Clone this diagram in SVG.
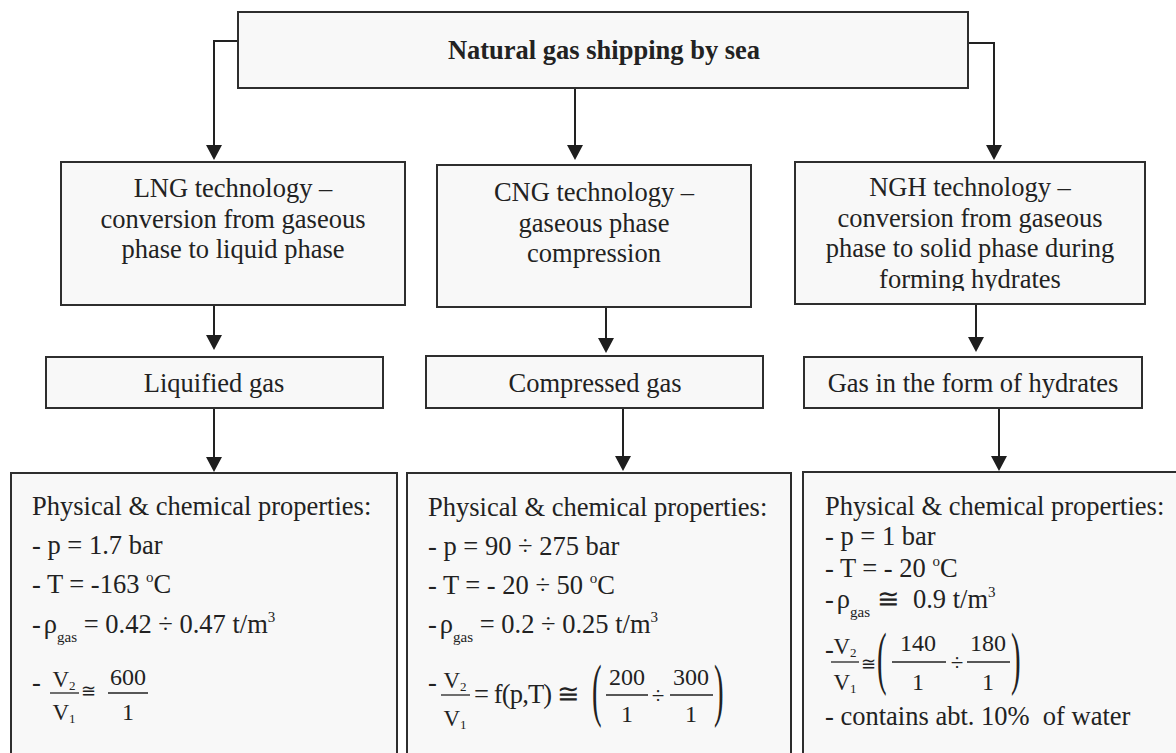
<svg xmlns="http://www.w3.org/2000/svg" width="1176" height="753" viewBox="0 0 1176 753" font-family="'Liberation Serif', 'Times New Roman', 'DejaVu Serif', serif">
<defs>
<marker id="ah" markerUnits="userSpaceOnUse" viewBox="0 0 15 16" refX="12" refY="8" markerWidth="15" markerHeight="16" orient="auto">
<path d="M0,0 L15,8 L0,16 z" fill="#1e1e1e"/>
</marker>
<clipPath id="nghclip"><rect x="795" y="162" width="350" height="129"/></clipPath>
</defs>
<style>
.box{fill:#f8f8f8;stroke:#2e2e2e;stroke-width:2}
.t{font-family:'Liberation Serif','Times New Roman','DejaVu Serif',serif;font-size:26.5px;fill:#222}
.c{text-anchor:middle}
.b{font-weight:bold}
.conn{fill:none;stroke:#222;stroke-width:2;marker-end:url(#ah)}
.sm{font-size:15px}
.ss{font-size:13px}
.fr{font-size:23px}
.nu{font-size:24px}
.eq{font-size:18px}
.fl{stroke:#222;stroke-width:1.3}
.pa{font-size:64px;font-weight:normal}
.pre{white-space:pre}
</style>
<rect width="1176" height="753" fill="#ffffff"/>

<g id="connectors">
<path class="conn" d="M238,41 H214 V157"/>
<path class="conn" d="M575,88 V157"/>
<path class="conn" d="M968,43 H994 V157"/>
<path class="conn" d="M214,305 V347"/>
<path class="conn" d="M606,307 V350"/>
<path class="conn" d="M976,304 V349"/>
<path class="conn" d="M214,408 V469"/>
<path class="conn" d="M623,408 V468"/>
<path class="conn" d="M999,408 V468"/>
</g>

<g id="root">
<rect class="box" x="238" y="12" width="730" height="76"/>
<text class="t b c" x="604" y="59">Natural gas shipping by sea</text>
</g>

<g id="lng">
<rect class="box" x="61" y="162" width="344" height="143"/>
<text class="t c" x="233" y="197">LNG technology –</text>
<text class="t c" x="233" y="228">conversion from gaseous</text>
<text class="t c" x="233" y="258">phase to liquid phase</text>
</g>

<g id="cng">
<rect class="box" x="437" y="165" width="314" height="142"/>
<text class="t c" x="594" y="201">CNG technology –</text>
<text class="t c" x="594" y="232">gaseous phase</text>
<text class="t c" x="594" y="262">compression</text>
</g>

<g id="ngh">
<rect class="box" x="795" y="162" width="350" height="142"/>
<text class="t c" x="970" y="196">NGH technology –</text>
<text class="t c" x="970" y="227">conversion from gaseous</text>
<text class="t c" x="970" y="257">phase to solid phase during</text>
<text class="t c" x="970" y="288" clip-path="url(#nghclip)">forming hydrates</text>
</g>

<g id="liquified">
<rect class="box" x="46" y="357" width="337" height="51"/>
<text class="t c" x="214" y="392">Liquified gas</text>
</g>

<g id="compressed">
<rect class="box" x="426" y="356" width="337" height="52"/>
<text class="t c" x="595" y="392">Compressed gas</text>
</g>

<g id="hydrates">
<rect class="box" x="804" y="357" width="338" height="51"/>
<text class="t c" x="973" y="392">Gas in the form of hydrates</text>
</g>

<g id="props-lng">
<rect class="box" x="11" y="473" width="386" height="300"/>
<text class="t" x="32" y="515">Physical &amp; chemical properties:</text>
<text class="t" x="32" y="554">- p = 1.7 bar</text>
<text class="t" x="32" y="593">- T = -163 <tspan class="sm" dy="-11">o</tspan><tspan dy="11">C</tspan></text>
<text class="t" x="32" y="633">-<tspan dx="3">ρ</tspan><tspan class="sm" dy="9">gas</tspan><tspan dy="-9"> = 0.42 ÷ 0.47 t/m</tspan><tspan class="sm" dy="-11">3</tspan></text>
<text class="t" x="32" y="691">-</text>
<text class="t fr c" x="64" y="687">V<tspan class="ss" dy="3">2</tspan></text>
<line class="fl" x1="50" y1="693" x2="79" y2="693"/>
<text class="t fr c" x="64" y="720">V<tspan class="ss" dy="3">1</tspan></text>
<text class="t eq c" x="88" y="697">≅</text>
<text class="t nu c" x="128" y="685">600</text>
<line class="fl" x1="108" y1="693" x2="148" y2="693"/>
<text class="t nu c" x="128" y="720">1</text>
</g>

<g id="props-cng">
<rect class="box" x="407" y="473" width="384" height="300"/>
<text class="t" x="428" y="516">Physical &amp; chemical properties:</text>
<text class="t" x="428" y="555">- p = 90 ÷ 275 bar</text>
<text class="t" x="428" y="594">- T = - 20 ÷ 50 <tspan class="sm" dy="-11">o</tspan><tspan dy="11">C</tspan></text>
<text class="t" x="428" y="633">-<tspan dx="3">ρ</tspan><tspan class="sm" dy="9">gas</tspan><tspan dy="-9"> = 0.2 ÷ 0.25 t/m</tspan><tspan class="sm" dy="-11">3</tspan></text>
<text class="t" x="428" y="691">-</text>
<text class="t fr c" x="455" y="688">V<tspan class="ss" dy="3">2</tspan></text>
<line class="fl" x1="441" y1="695" x2="470" y2="695"/>
<text class="t fr c" x="455" y="726">V<tspan class="ss" dy="3">1</tspan></text>
<text class="t" x="474" y="703" font-size="24" textLength="106">= f(p,T) ≅</text>
<text class="t pa" transform="translate(592,712.5) scale(0.45,1.1)">(</text>
<text class="t nu c" x="627" y="685">200</text>
<line class="fl" x1="606" y1="695" x2="648" y2="695"/>
<text class="t nu c" x="627" y="722">1</text>
<text class="t fr c" x="658" y="703">÷</text>
<text class="t nu c" x="691" y="685">300</text>
<line class="fl" x1="670" y1="695" x2="713" y2="695"/>
<text class="t nu c" x="691" y="722">1</text>
<text class="t pa" transform="translate(714,712.5) scale(0.45,1.1)">)</text>
</g>

<g id="props-ngh">
<rect class="box" x="803" y="472" width="400" height="300"/>
<text class="t" x="825" y="515">Physical &amp; chemical properties:</text>
<text class="t" x="825" y="545">- p = 1 bar</text>
<text class="t" x="825" y="577">- T = - 20 <tspan class="sm" dy="-11">o</tspan><tspan dy="11">C</tspan></text>
<text class="t pre" x="825" y="608">-<tspan dx="3">ρ</tspan><tspan class="sm" dy="9">gas</tspan><tspan dy="-9"> ≅  0.9 t/m</tspan><tspan class="sm" dy="-11">3</tspan></text>
<text class="t" x="825" y="658">-</text>
<text class="t fr c" x="845" y="654">V<tspan class="ss" dy="3">2</tspan></text>
<line class="fl" x1="831" y1="662" x2="859" y2="662"/>
<text class="t fr c" x="845" y="690">V<tspan class="ss" dy="3">1</tspan></text>
<text class="t eq c" x="868" y="670">≅</text>
<text class="t pa" transform="translate(877,680.5) scale(0.45,1.1)">(</text>
<text class="t nu c" x="918" y="651">140</text>
<line class="fl" x1="892" y1="662" x2="946" y2="662"/>
<text class="t nu c" x="918" y="690">1</text>
<text class="t fr c" x="957" y="670">÷</text>
<text class="t nu c" x="988" y="651">180</text>
<line class="fl" x1="967" y1="662" x2="1010" y2="662"/>
<text class="t nu c" x="988" y="690">1</text>
<text class="t pa" transform="translate(1011,680.5) scale(0.45,1.1)">)</text>
<text class="t pre" x="825" y="725">- contains abt. 10%  of water</text>
</g>
</svg>
